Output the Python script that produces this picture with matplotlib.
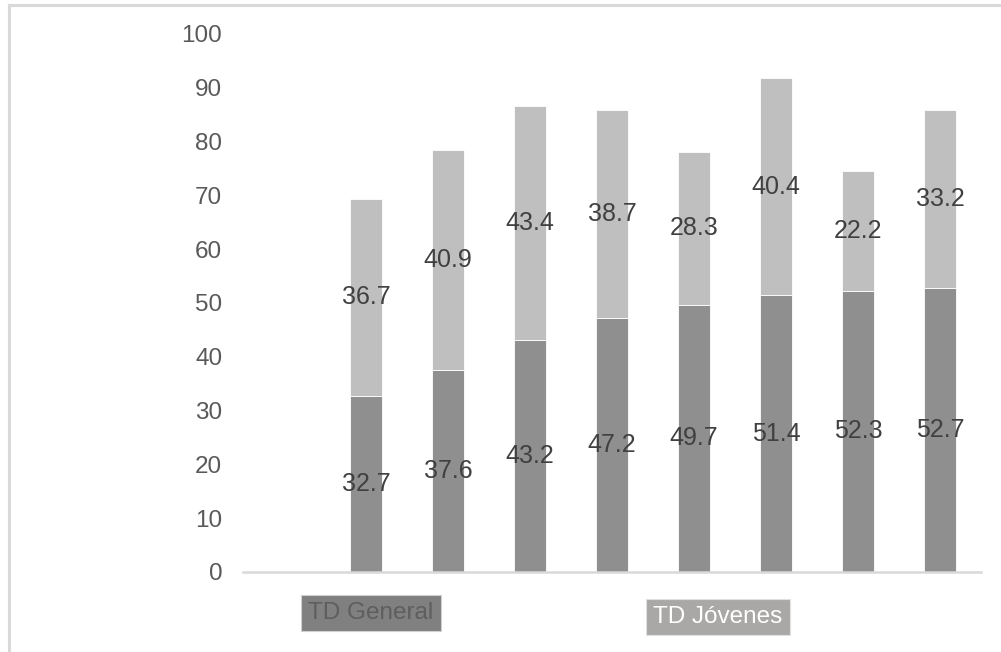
import matplotlib
matplotlib.use("Agg")
import matplotlib.pyplot as plt
from matplotlib.lines import Line2D

plt.rcParams['font.family'] = ['Liberation Sans', 'DejaVu Sans']

# Categories (first slot left empty)
slots = ["", "1", "2", "3", "4", "5", "6", "7", "8"]
td_general = [None, 32.7, 37.6, 43.2, 47.2, 49.7, 51.4, 52.3, 52.7]
td_jovenes = [None, 36.7, 40.9, 43.4, 38.7, 28.3, 40.4, 22.2, 33.2]
series_names = ["TD General", "TD Jóvenes"]
yticks = [0, 10, 20, 30, 40, 50, 60, 70, 80, 90, 100]

c_gen = "#8f8f8f"
c_jov = "#bfbfbf"
c_txt = "#404040"
c_tick = "#595959"

fig = plt.figure(figsize=(10.01, 6.52), dpi=100)
ax = fig.add_axes([0.2428, 0.1227, 0.7373, 0.8252])

xs = [i for i, v in enumerate(td_general) if v is not None]
gen = [td_general[i] for i in xs]
jov = [td_jovenes[i] for i in xs]

w = 0.40
ax.bar(xs, gen, width=w, color=c_gen, edgecolor="white", linewidth=0.6, zorder=2)
ax.bar(xs, jov, width=w, bottom=gen, color=c_jov, edgecolor="white", linewidth=0.6, zorder=2)

for x, g, j in zip(xs, gen, jov):
    ax.text(x, g / 2, f"{g:.1f}", ha="center", va="center", fontsize=18, color=c_txt, zorder=3)
    ax.text(x, g + j / 2, f"{j:.1f}", ha="center", va="center", fontsize=18, color=c_txt, zorder=3)

ax.set_xlim(-0.5, len(slots) - 0.5)
ax.set_ylim(0, 100)
ax.set_yticks(yticks)
ax.set_yticklabels([str(t) for t in yticks], fontsize=17.5, color=c_tick)
ax.tick_params(axis="y", length=0, pad=15)
ax.set_xticks([])
for s in ["top", "right", "left"]:
    ax.spines[s].set_visible(False)
ax.spines["bottom"].set_color("#d9d9d9")
ax.spines["bottom"].set_linewidth(1.8)

# Series name boxes below the axis
fig.text(0.3706, 1 - 613 / 652, series_names[0], ha="center", va="center", fontsize=17.5,
         color="#5e5e5e",
         bbox=dict(boxstyle="square,pad=0.3", facecolor="#808080", edgecolor="#d0d0d0", linewidth=0.8))
fig.text(0.7173, 1 - 617 / 652, series_names[1], ha="center", va="center", fontsize=17.5,
         color="white",
         bbox=dict(boxstyle="square,pad=0.3", facecolor="#aaa7a7", edgecolor="#e0e0e0", linewidth=0.8))

# Outer frame (top and left edges)
fig.add_artist(Line2D([9 / 1001, 1], [1 - 5 / 652, 1 - 5 / 652], color="#d9d9d9", linewidth=2.2,
                      transform=fig.transFigure))
fig.add_artist(Line2D([9 / 1001, 9 / 1001], [0, 1 - 5 / 652], color="#d9d9d9", linewidth=2.2,
                      transform=fig.transFigure))

fig.savefig("out.png", dpi=100, facecolor="white")
